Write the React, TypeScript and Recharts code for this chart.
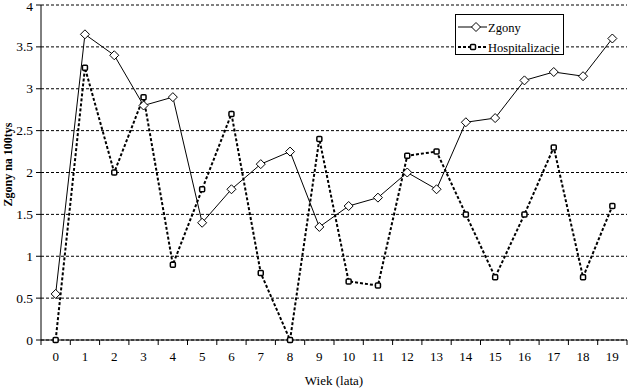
import { LineChart, Line, XAxis, YAxis, CartesianGrid, Legend } from 'recharts'

const AGES = [0, 1, 2, 3, 4, 5, 6, 7, 8, 9, 10, 11, 12, 13, 14, 15, 16, 17, 18, 19]
const ZGONY = [0.55, 3.65, 3.4, 2.8, 2.9, 1.4, 1.8, 2.1, 2.25, 1.35, 1.6, 1.7, 2.0, 1.8, 2.6, 2.65, 3.1, 3.2, 3.15, 3.6]
const HOSP = [0, 3.25, 2.0, 2.9, 0.9, 1.8, 2.7, 0.8, 0, 2.4, 0.7, 0.65, 2.2, 2.25, 1.5, 0.75, 1.5, 2.3, 0.75, 1.6]
const Y_TICKS = [0, 0.5, 1, 1.5, 2, 2.5, 3, 3.5, 4]

const data = AGES.map((age, i) => ({ age, zgony: ZGONY[i], hosp: HOSP[i] }))

// label ticks at integers, tick marks between categories
const X_TICKS = [...AGES, ...AGES.map((a) => a - 0.5), AGES[AGES.length - 1] + 0.5].sort((a, b) => a - b)

const FONT = '"Liberation Serif", "DejaVu Serif", serif'

const XTick = (props: any) => {
  const { x, y, payload } = props
  const v = payload.value
  if (Number.isInteger(v)) {
    return (
      <text x={x} y={y + 21} textAnchor="middle" fontSize={13} fontFamily={FONT} fill="#000">
        {v}
      </text>
    )
  }
  return <line x1={x} x2={x} y1={y} y2={y + 5} stroke="#000" />
}

const YTick = (props: any) => {
  const { x, y, payload } = props
  // keep the top label inside the picture
  const dy = payload.value === 4 ? 5.5 : 4.5
  return (
    <text x={x} y={y + dy} textAnchor="end" fontSize={13.5} fontFamily={FONT} fill="#000">
      {payload.value}
    </text>
  )
}

const diamond = (cx: number, cy: number) =>
  `M${cx},${cy - 4.5}L${cx + 4.5},${cy}L${cx},${cy + 4.5}L${cx - 4.5},${cy}Z`

const ZgonyDot = (props: any) => {
  const { cx, cy, index } = props
  return <path key={`z-${index}`} d={diamond(cx, cy)} fill="#fff" stroke="#000" strokeWidth={1} />
}

const HospDot = (props: any) => {
  const { cx, cy, index } = props
  return (
    <rect key={`h-${index}`} x={cx - 2.5} y={cy - 2.5} width={5} height={5} rx={1} fill="#fff" stroke="#000" strokeWidth={1.5} />
  )
}

const LegendBox = () => (
  <svg width={109} height={41} style={{ display: 'block' }}>
    <rect x={0.5} y={0.5} width={108} height={40} fill="#fff" stroke="#000" />
    <line x1={3} x2={32} y1={13} y2={13} stroke="#000" />
    <path d={diamond(21, 13)} fill="#fff" stroke="#000" />
    <text x={33} y={17.5} fontSize={12.5} fontFamily={FONT} fill="#000">Zgony</text>
    <line x1={3} x2={32} y1={33} y2={33} stroke="#000" strokeWidth={2} strokeDasharray="3 2" />
    <rect x={15.5} y={30.5} width={5} height={5} rx={1} fill="#fff" stroke="#000" strokeWidth={1.5} />
    <text x={33} y={37.5} fontSize={12.5} fontFamily={FONT} fill="#000">Hospitalizacje</text>
  </svg>
)

export default function App() {
  return (
    <div style={{ position: 'absolute', left: 0, top: 0, background: '#fff' }}>
      <LineChart width={629} height={391} data={data} margin={{ top: 5, right: 2, left: 0, bottom: 0 }}>
        <CartesianGrid vertical={false} stroke="#000" strokeDasharray="3 2" />
        <XAxis
          dataKey="age"
          type="number"
          domain={[-0.5, 19.5]}
          ticks={X_TICKS}
          interval={0}
          tick={<XTick />}
          tickLine={false}
          tickSize={0}
          tickMargin={0}
          axisLine={{ stroke: '#000' }}
          height={51}
          label={{ value: 'Wiek (lata)', position: 'insideBottom', offset: 6, fontSize: 13, fontFamily: FONT, fill: '#000' }}
        />
        <XAxis xAxisId="top" orientation="top" dataKey="age" type="number" domain={[-0.5, 19.5]} tick={false} tickLine={false} height={0} axisLine={{ stroke: '#808080' }} />
        <YAxis
          domain={[0, 4]}
          ticks={Y_TICKS}
          interval={0}
          width={41}
          tickSize={5}
          tickMargin={3}
          tick={<YTick />}
          tickLine={{ stroke: '#000' }}
          axisLine={{ stroke: '#000' }}
          label={{ value: 'Zgony na 100tys', angle: -90, position: 'insideLeft', offset: 8, dy: -8, fontSize: 12, fontWeight: 'bold', fontFamily: FONT, fill: '#000', style: { textAnchor: 'middle' } }}
        />
        <YAxis yAxisId="right" orientation="right" domain={[0, 4]} tick={false} tickLine={false} width={0} axisLine={{ stroke: '#808080' }} />
        <Line dataKey="zgony" name="Zgony" stroke="#000" strokeWidth={1} dot={ZgonyDot} isAnimationActive={false} />
        <Line dataKey="hosp" name="Hospitalizacje" stroke="#000" strokeWidth={2} strokeDasharray="3 2" dot={HospDot} isAnimationActive={false} />
        <Legend
          layout="vertical"
          align="center"
          verticalAlign="middle"
          content={<LegendBox />}
          wrapperStyle={{ left: 455, top: 14, width: 109 }}
        />
      </LineChart>
    </div>
  )
}
